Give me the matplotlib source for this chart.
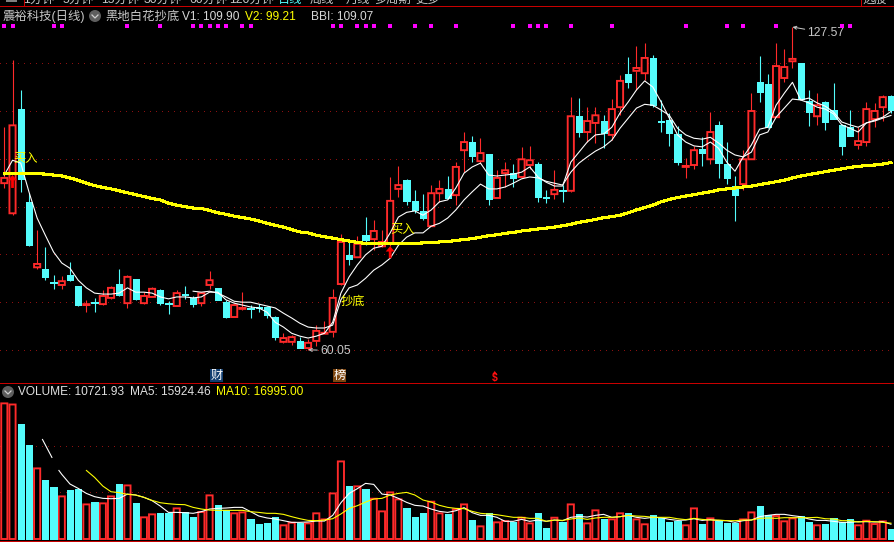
import numpy as np
import matplotlib
matplotlib.use('Agg')
import matplotlib.pyplot as plt
from matplotlib.patches import Circle, Rectangle, Polygon

plt.rcParams['font.family'] = ['Liberation Sans', 'Noto Sans CJK SC', 'DejaVu Sans']

open_ = [94.9,88.6,110.4,91,77.3,76.9,74.2,73.6,75.7,73.4,
 69.4,70,69.6,70.9,73.8,69.8,74.8,69.8,71.1,72.5,
 69.8,69.2,71.7,70.9,69.8,73.6,73,70,66.9,68.6,
 68.8,69,69,66.9,61.7,61.7,61.9,60.4,61.9,63.4,
 63.8,73.8,79.9,79.4,84,83.2,81.7,82.4,93.7,95.5,
 91.2,89.1,85.9,92.8,93.7,92.4,101.8,103.5,99.5,101,
 91.8,97,97,96.2,98.7,98.9,92,92.6,93.5,93.3,
 108.9,105.6,107.5,107.9,105,110.8,117.7,118.4,117.9,121.1,
 107.9,108.1,105.2,98.3,98.7,102,99.9,107.1,98.9,94.3,
 94.7,99.9,116.1,115.6,108.7,116.9,120.4,120,112.1,108.9,
 111.9,110.2,107.1,106.6,102.9,103.5,108.3,110.8,113.1]
close = [96,107,95.8,81.9,78,75.3,74,74.4,74.6,69.4,
 69.6,69.8,71.3,73,71.5,75.3,70.7,71.3,72.8,69.8,
 69.6,71.9,71.5,69.6,71.9,74.6,70.5,66.9,69.4,68.8,
 68.6,68.8,67.3,62.7,62.5,62.7,60.4,61.5,64,63.6,
 70.9,82.6,79,82.2,83,84.9,82.6,91.2,94.5,91.2,
 89.3,87.6,92.8,93.7,91.8,98.3,103.5,100.6,101.2,91.6,
 96,97.6,96,99.9,99.7,92,91.8,93.5,93.3,108.9,
 105.6,107.9,109.1,105.4,110.4,116.3,116.1,119,121.1,111.2,
 107.7,105.4,99.3,98.5,101.8,101.2,105.6,99.1,96,92.4,
 99.9,110,113.9,106.6,119.4,119.2,120.9,112.5,109.8,111.2,
 107.7,108.3,102.7,104.8,103.7,110.4,110,112.9,110.2]
high = [106.6,120.7,114.4,92.8,85.1,81.5,75.7,75.5,78.4,73.4,
 70.5,70.9,72.5,73.4,76.9,75.7,74.8,72.1,73.2,72.8,
 70.2,72.5,73.4,71.3,72.1,76.5,73,70.5,69.6,72.1,
 69.4,69.6,69.2,67.1,63.6,63.1,62.7,62.3,65.2,66.1,
 72.8,84.2,82.6,83.8,87.8,87.2,85.1,96.2,98.5,95.8,
 93.5,92.6,94.5,95.5,96.4,99.3,105.6,104.8,104.3,101,
 97.6,99.3,98.9,102.5,102.7,99.3,93.5,97.6,94.5,112.9,
 112.7,110.8,110.8,109.1,112.5,117.5,121.3,123.6,124.2,121.7,
 112.3,109.6,106.8,100.1,102.7,104.5,109.8,107.9,103.5,96.4,
 101.8,113.7,121.5,117.7,124.2,122.9,127.57,120,114.4,113.7,
 112.1,115.8,107.3,110.2,106.6,111.9,111.7,113.3,113.3]
low = [93.9,88.2,93.1,81.7,76.9,74.6,72.8,72.8,74.4,69.2,
 67.9,67.9,69.5,70.7,71.3,68.8,70.5,69.7,71.1,69.4,
 67.5,69.2,70.7,69,69.2,72.8,70.5,66.7,66.9,68.4,
 66.7,67.9,66.7,62.1,61.5,61,60.4,60.05,60.8,63.4,
 62.7,73.6,77.8,79.4,81.9,80.9,81.5,81.7,92,90.3,
 88.6,87.2,85.9,91,91.6,90.3,97.2,99.3,99.1,90.3,
 91.8,94.1,94.1,96,97.8,91,90.7,91.6,91,93.1,
 104.5,103.5,103.3,102.2,103.9,109.1,114.8,114.4,116.5,110.8,
 105.6,102.7,98.7,96,97.8,98.5,98.9,96,94.7,87,
 93.5,99.9,111.9,106.4,108.7,116.1,119,112.5,106.8,107.1,
 106,108.3,100.8,104.8,102.1,102.7,106.6,107.9,109.6]
v1 = [96.6,99.7,99.1,93.1,87.6,84,80.5,78.2,77.1,74.6,
 73,71.9,71.7,71.7,71.9,73,72.1,72.1,71.9,71.1,
 70.7,71.1,71.1,70.9,71.1,72.1,72.1,70.5,69.8,69.4,
 69,68.8,67.9,65.8,64.8,63.5,62.9,62.5,62.9,63.5,
 65.8,71.9,75.3,77.8,79.9,81.3,81.7,84.5,87.8,88.8,
 89.1,88.2,89.3,91,91.4,93.9,97,98.3,99.1,96.6,
 96.4,96.6,96.8,97.2,98.3,96.2,95.1,94.3,94.3,99.3,
 101.4,103.5,105,105.2,106.6,109.6,111.9,114.4,116.3,115,
 111.9,108.5,105,103.5,102.7,102.5,103.5,102.2,99.3,97.4,
 100.4,102.9,106.2,106.6,111.2,113.7,116,112.3,111.7,110.8,
 110.4,109.4,107.1,106.4,105.6,107.5,108.1,108.7,109.9]
bbi = [72.3,72.1,72.3,71.9,71.1,70.2,70,
 70,69.6,69.2,68.8,67.7,66.7,65.6,64.8,64.6,64.6,
 65.2,70.5,73,73.6,75,76.7,77.8,79.2,81.9,83.6,
 84.5,84.5,85.9,86.5,87.6,89.3,91.4,93.1,94.7,93.7,
 93.7,94.1,94.9,95.8,96.2,96,95.3,94.9,94.5,97.2,
 99.1,100.4,101.6,102.5,103.9,106.4,108.5,110.6,111.4,111.2,
 110.2,109.1,106.4,105,104.3,104.1,104.5,103.3,101.8,100.8,
 100.4,101.4,105,105.6,108.7,110.6,112.5,112.3,112.7,111.7,
 111,109.8,107.7,107.1,106.6,107.5,107.9,108.5,109.07]
bbi_start = 23
v2 = [97,97,97,96.9,96.9,96.8,96.6,96.4,96,95.5,
 94.9,94.4,94,93.7,93.3,92.9,92.5,92.1,91.7,91.4,
 90.7,90.3,90,89.7,89.6,89.2,88.7,88.4,88,87.7,
 87.4,87,86.5,86.1,85.7,85.2,84.7,84.5,84,83.7,
 83.4,83.1,82.8,82.5,82.3,82.2,82.2,82.2,82.2,82.3,
 82.3,82.4,82.5,82.6,82.7,82.9,83.1,83.3,83.6,83.9,
 84.1,84.4,84.6,84.9,85.1,85.3,85.5,85.7,86,86.3,
 86.7,87,87.3,87.7,87.9,88.2,88.7,89.3,89.8,90.3,
 91,91.5,91.9,92.2,92.5,92.8,93.1,93.5,93.7,93.9,
 94.1,94.3,94.6,94.9,95.2,95.5,96,96.4,96.7,97,
 97.3,97.6,97.9,98.2,98.4,98.6,98.7,98.9,99.21]
volume = [145.8,144.6,123.2,101,75.9,63.4,55.8,45.8,52.6,53.7,
 37.2,39.7,38.3,45.8,59.1,57.6,38.7,23.3,26.5,27.9,
 27.9,32.9,28.6,23.6,29,46.9,36.5,31.1,27.6,28.6,
 21.5,16.1,17.2,23.6,14.7,17.5,17.7,16.8,27.6,21.1,
 49,83.4,56.9,56.6,53.3,43.3,29.7,50.1,42.6,33.3,
 23.6,27.9,40.1,27.6,26.9,31.9,37.2,20.4,13.6,27.6,
 17.9,19.3,18.6,22.9,16.8,27.9,11.8,22.9,18.6,37.2,
 26.9,16.8,30.8,21.5,21.1,27.6,27.9,21.1,15.8,25.8,
 22.2,18.6,19.7,14.7,32.9,16.1,22.2,19.7,17.2,17.5,
 21.1,28.6,35.4,25.4,24.7,19,22.2,24.7,18.3,14.7,
 16.1,22.2,17.9,21.1,14.7,19.7,16.1,19,10.72]
ma5_head_x = [4.65, 5.8]
ma5_head = [107, 87.7]
ma5_x = [6.65] + list(range(7, 109))
ma5 = [73.7,69.5,59.1,54.4,
 49,45.5,43.7,43.3,43.7,48.3,47.3,44.8,41.2,35.4,
 28.6,28.6,28.3,27.6,29.4,32.2,32.9,33.3,34,34,
 29.4,24.7,22.6,21.5,19.7,17.9,17.9,18.3,19.3,19.3,
 25.4,39,49,54.1,59.8,58.7,48.3,47.3,43.7,39.4,
 36.2,35.4,32.2,29.7,28.6,30.4,33.7,28.3,25.4,25.4,
 23.3,19,19,21.1,19,20.4,19,20.4,19.7,23.3,
 24.3,23.6,25.4,26.5,23.3,24,25.4,23.3,22.2,23.3,
 22.9,21.1,20,20.4,21.8,20,20.8,19.7,19.7,17.9,
 19.7,20.4,24,25.4,26.5,26.5,25.1,24,21.5,20,
 20,19,17.9,17.9,18.6,18.6,18.3,18.6,15.92]
ma10_start = 10
ma10 = [73.7,66.2,56.9,50.8,49.8,48,47.3,44.8,41.5,39,
 37.9,37.2,36.9,34,32.2,31.1,30.8,30.8,30.8,30.8,
 29.4,28.6,27.6,27.6,26.5,24,21.8,20,19.7,20.4,
 21.8,26.9,32.9,35.8,39.7,43,43.7,47.3,49,50.1,
 47.3,41.9,39.7,36.2,34,32.9,32.6,29.7,27.6,26.9,
 26.1,24.7,23.3,23.3,22.2,22.2,19,20.4,20,21.5,
 22.6,21.1,22.6,23.3,23.3,24,25.4,24.7,24.3,23.3,
 23.3,23.3,21.8,20.8,22.2,21.1,20.4,20.4,19.7,19.7,
 20.4,20.4,22.2,22.6,22.2,22.9,22.9,22.9,22.9,23.3,
 21.8,21.5,19.7,19.7,18.3,19,18.6,17.9,17.0]
signal_days = [0,1,6,7,15,19,23,24,25,26,27,29,30,40,41,43,44,45,47,50,52,
               55,62,64,65,66,69,74,83,88,90,94,102,103]
price_grid = [60,70,80,90,100,110,120]
volume_grid = [50,100]
top_tabs = ['1分钟','5分钟','15分钟','30分钟','60分钟','120分钟','日线','周线','月线','多周期','更多']

W, H = 894, 542
RED, CYAN, YEL, GREY = '#FF2A2A', '#54FCFC', '#FFFF00', '#C8C8C8'
GRID = '#8C1010'
px = 0.72

fig = plt.figure(figsize=(W/100, H/100), dpi=100, facecolor='black')

def axes_px(top, bottom):
    a = fig.add_axes([0, 1-bottom/H, 1, (bottom-top)/H], facecolor='black')
    a.set_xlim(-4.3/8.21, (W-4.3)/8.21)
    a.set_xticks([]); a.set_yticks([])
    for s in a.spines.values():
        s.set_visible(False)
    return a

ax = axes_px(7, 382)
ax.set_ylim(60+(350-382)*0.2092, 60+(350-7)*0.2092)
axv = axes_px(384, 540)
axv.set_ylim(-1.075, 155*1.075)

n = len(close)
x = np.arange(n)
o, c, h, l = map(np.array, (open_, close, high, low))
up = c >= o
dash = (0, (1, 5.5))

for g in price_grid:
    ax.axhline(g, color=GRID, lw=px, ls=dash, zorder=1, antialiased=False)
for g in volume_grid:
    axv.axhline(g, color=GRID, lw=px, ls=dash, zorder=1, antialiased=False)

top = np.maximum(o, c); bot = np.minimum(o, c)
for m, col in ((up, RED), (~up, CYAN)):
    ax.vlines(x[m], top[m], h[m], color=col, lw=1.1*px, zorder=2)
    ax.vlines(x[m], l[m], bot[m], color=col, lw=1.1*px, zorder=2)

def hollow_bars(a, xs, heights, bottoms):
    for b in a.bar(xs, heights, bottom=bottoms, width=0.75, facecolor='black', edgecolor=RED,
                   linewidth=1.9*px, zorder=3):
        b.set_snap(False)

hollow_bars(ax, x[up], (top-bot)[up], bot[up])
ax.bar(x[~up], (top-bot)[~up], bottom=bot[~up], width=0.76, facecolor=CYAN, edgecolor=CYAN,
       linewidth=px, zorder=3, antialiased=False)

ax.plot(x, v1, color='white', lw=1.1*px, zorder=4)
ax.plot(x[bbi_start:], bbi, color='white', lw=1.1*px, zorder=4)
ax.plot(x, v2, color=YEL, lw=2.1*px, zorder=5, antialiased=False)

# buy arrows on signal days
for i, tip, tail in ((1, 96.6, 93.9), (47, 81.7, 79.2)):
    ax.annotate('', xy=(i, tip), xytext=(i, tail), zorder=6,
                arrowprops=dict(facecolor='#FF0000', edgecolor='#FF0000', width=2.0, headwidth=6.5,
                                headlength=3.8, shrink=0, lw=0))
for i, p, s in ((1.05, 100.1, '买入'), (47.0, 85.3, '买入'), (41.0, 70.0, '抄底')):
    ax.text(i, p, s, color=YEL, fontsize=8.8, va='center', ha='left', zorder=6)

for i, off in ((int(np.argmin(l)), (12, -1)), (int(np.argmax(h)), (15, -6))):
    val = l[i] if off[1] == -1 else h[i]
    ax.annotate(f'{val:.2f}', xy=(i, val), xytext=off, textcoords='offset pixels', color=GREY,
                fontsize=8.8, va='center', ha='left', zorder=6,
                arrowprops=dict(arrowstyle='->,head_width=0.12,head_length=0.25', color=GREY, lw=px,
                                shrinkA=0, shrinkB=0))

# signal dots along top
ax.scatter(signal_days, [60+(350-25.6)*0.2092]*len(signal_days), marker='s', s=6,
           color='#FF00FF', linewidths=0, zorder=6)

# volume
vol = np.array(volume)
hollow_bars(axv, x[up], vol[up], 0)
axv.bar(x[~up], vol[~up], width=0.76, facecolor=CYAN, edgecolor=CYAN, linewidth=px, zorder=3, antialiased=False)
axv.plot(ma5_head_x, ma5_head, color='white', lw=1.1*px, zorder=4)
axv.plot(ma5_x, ma5, color='white', lw=1.1*px, zorder=4)
axv.plot(x[ma10_start:], ma10, color=YEL, lw=1.1*px, zorder=5)

# overlay in pixel coordinates
ov = fig.add_axes([0, 0, 1, 1], facecolor='none')
ov.set_xlim(0, W); ov.set_ylim(H, 0); ov.axis('off')

def T(xp, yp, s, col=GREY, fs=8.8, **kw):
    ov.text(xp, yp, s, color=col, fontsize=fs, va='center', ha=kw.pop('ha', 'left'), **kw)

def icon(cx, cy):
    ov.add_patch(Circle((cx, cy), 6, facecolor='#5E5E5E', edgecolor='none'))
    ov.plot([cx-3, cx, cx+3], [cy-1, cy+2, cy-1], color='#D0D0D0', lw=0.9)

# red frame lines
for yy in (6.3, 383, 541):
    ov.plot([0, W], [yy, yy], color='#C80000', lw=px, antialiased=False)
ov.plot([23.5, 23.5], [0, 6], color='#C80000', lw=px)
ov.plot([861, 861], [0, 6], color='#C80000', lw=px)
ov.add_patch(Rectangle((6, 0), 11, 1.5, facecolor='#808080', edgecolor='none'))

for xp, s, col in zip([39, 78, 120, 163, 208, 252, 290, 322, 358, 392, 428], top_tabs,
                      [GREY]*6 + [CYAN] + [GREY]*4):
    T(xp, -0.5, s, col, ha='center', clip_on=True)
T(875, -0.5, '选股', GREY, ha='center', clip_on=True)

T(3, 16.5, '震裕科技(日线)', GREY, 8.9)
icon(95, 16)
T(105, 16.5, '黑地白花抄底', GREY, 8.9)
T(182, 16.5, 'V1: 109.90', '#D8D8D8', 8.6)
T(245, 16.5, 'V2: 99.21', YEL, 8.6)
T(311, 16.5, 'BBI: 109.07', '#D8D8D8', 8.6)

icon(8, 392)
T(18, 392, 'VOLUME: 10721.93', '#E0E0E0', 8.6)
T(130, 392, 'MA5: 15924.46', '#E0E0E0', 8.6)
T(216, 392, 'MA10: 16995.00', YEL, 8.6)

ov.add_patch(Rectangle((210, 369), 13, 12.5, facecolor='#103D70', edgecolor='none'))
T(216.5, 375.5, '财', 'white', 8.8, ha='center')
ov.add_patch(Rectangle((333, 369), 13, 12.5, facecolor='#7C4510', edgecolor='none'))
T(339.5, 375.5, '榜', 'white', 8.8, ha='center')
ov.add_patch(Polygon([(492.5, 374), (497, 374), (494.7, 371)], facecolor='#FF1010', edgecolor='none'))
T(494.7, 378.5, '$', '#FF1010', 7.5, ha='center', fontweight='bold')

fig.savefig('out.png', dpi=100, facecolor='black')
